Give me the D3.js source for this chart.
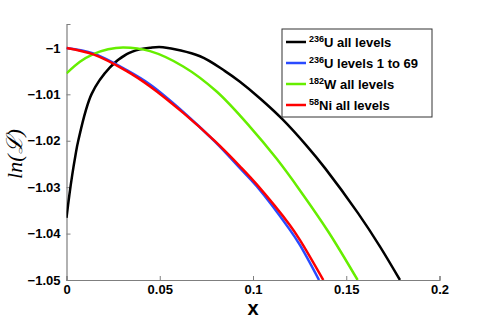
<!DOCTYPE html>
<html>
<head>
<meta charset="utf-8">
<script src="https://cdn.jsdelivr.net/npm/d3@7"></script>
<style>
  body { margin: 0; background: #fff; }
  svg text { font-family: "Liberation Sans", Arial, sans-serif; font-weight: bold; }
</style>
</head>
<body>
<svg id="chart" width="485" height="320"></svg>
<script>
// data
const seriesNames = ["236U all levels", "236U levels 1 to 69", "182W all levels", "58Ni all levels"];
const seriesColors = ["#000000", "#2a4bff", "#66ee00", "#ff0000"];

const blackX = [0, 0.0015, 0.0031, 0.0047, 0.0063, 0.0135, 0.0233, 0.0323, 0.0394, 0.0448, 0.0517,
  0.0716, 0.085, 0.093, 0.1038, 0.1156, 0.1288, 0.1386, 0.1563, 0.1681, 0.1788];
const blackY = [-1.0366, -1.0318, -1.0273, -1.0234, -1.0200, -1.0099, -1.0042, -1.00135, -1.0003, -0.99995, -0.99985,
  -1.0018, -1.0050, -1.0073, -1.0109, -1.0153, -1.0211, -1.0259, -1.0356, -1.0428, -1.05];

const blueX = [0, 0.0144, 0.0323, 0.0448, 0.0626, 0.0796, 0.093, 0.102, 0.1198, 0.1252, 0.1354];
const blueY = [-1.0, -1.0012, -1.0048, -1.0079, -1.0138, -1.0202, -1.0259, -1.0298, -1.0392, -1.0425, -1.05];

const greenX = [0, 0.0072, 0.0144, 0.0223, 0.0305, 0.0448, 0.0626, 0.0805, 0.0984, 0.1127, 0.1252, 0.1404, 0.1561];
const greenY = [-1.0055, -1.0030, -1.00135, -1.0003, -0.9999, -1.0007, -1.0040, -1.0094, -1.0170, -1.0239, -1.0307, -1.0396, -1.05];

const redX = [0, 0.0144, 0.0323, 0.0448, 0.0626, 0.0796, 0.093, 0.102, 0.1198, 0.1252, 0.1377];
const redY = [-1.0, -1.0014, -1.0050, -1.0083, -1.0140, -1.0201, -1.0255, -1.0294, -1.0382, -1.0414, -1.05];

const xTicks = [0, 0.05, 0.1, 0.15, 0.2];
const yTicks = [-1, -1.01, -1.02, -1.03, -1.04, -1.05];

const series = [
  { xs: blackX, ys: blackY },
  { xs: blueX, ys: blueY },
  { xs: greenX, ys: greenY },
  { xs: redX, ys: redY }
];

const svg = d3.select("#chart");
const plotLeft = 66.5, plotRight = 439.5, plotTop = 24, plotBottom = 280;

const x = d3.scaleLinear().domain([0, 0.2]).range([plotLeft, plotRight]);
const y = d3.scaleLinear().domain([-1.05, -0.99485]).range([plotBottom, plotTop]);

const fmt = d => d.toString().replace("-", "\u2212");

// axes (matlab style, ticks inside)
const gx = svg.append("g").attr("transform", `translate(0,${plotBottom})`)
  .call(d3.axisBottom(x).tickValues(xTicks).tickSize(-4).tickPadding(7).tickFormat(d => d));
const gy = svg.append("g").attr("transform", `translate(${plotLeft},0)`)
  .call(d3.axisLeft(y).tickValues(yTicks).tickSize(-4).tickPadding(6).tickFormat(fmt));

[gx, gy].forEach(g => {
  g.select(".domain").attr("stroke", "#7f7f7f").attr("stroke-width", 1.2);
  g.selectAll(".tick line").attr("stroke", "#7f7f7f");
  g.selectAll(".tick text").attr("fill", "#000").style("font-size", "13px").style("font-weight", "bold");
});
gx.selectAll(".tick text").attr("dy", "0.5em");

// curves
const line = d3.line().curve(d3.curveCatmullRom.alpha(0.5));
svg.append("clipPath").attr("id", "plotclip")
  .append("rect").attr("x", plotLeft).attr("y", plotTop - 10)
  .attr("width", plotRight - plotLeft).attr("height", plotBottom - plotTop + 10);

svg.append("g").attr("clip-path", "url(#plotclip)")
  .selectAll("path")
  .data(series)
  .join("path")
  .attr("fill", "none")
  .attr("stroke", (d, i) => seriesColors[i])
  .attr("stroke-width", 2.5)
  .attr("d", d => line(d.xs.map((v, i) => [x(v), y(d.ys[i])])));

// axis labels
svg.append("text")
  .attr("x", x(0.1)).attr("y", 315)
  .attr("text-anchor", "middle")
  .style("font-size", "20px")
  .text("x");

svg.append("text")
  .attr("transform", "translate(22,154) rotate(-90)")
  .attr("text-anchor", "middle")
  .style("font-family", "'Liberation Serif', 'DejaVu Serif', serif")
  .style("font-style", "italic")
  .style("font-weight", "normal")
  .style("font-size", "22px")
  .text("ln(\u2112)");

// legend
const lg = svg.append("g").attr("transform", "translate(282,29)");
lg.append("rect").attr("width", 150).attr("height", 88)
  .attr("fill", "#fff").attr("stroke", "#333").attr("stroke-width", 1);

const item = lg.selectAll("g.item").data(seriesNames).join("g")
  .attr("class", "item")
  .attr("transform", (d, i) => `translate(0,${13 + i * 21})`);

item.append("line").attr("x1", 4).attr("x2", 24)
  .attr("stroke", (d, i) => seriesColors[i]).attr("stroke-width", 2.5);

const txt = item.append("text").attr("x", 27).attr("y", 5).style("font-size", "13px");
txt.append("tspan").attr("dy", "-5").style("font-size", "9px").text(d => d.match(/^\d+/)[0]);
txt.append("tspan").attr("dy", "5").text(d => d.replace(/^\d+/, ""));
</script>
</body>
</html>
